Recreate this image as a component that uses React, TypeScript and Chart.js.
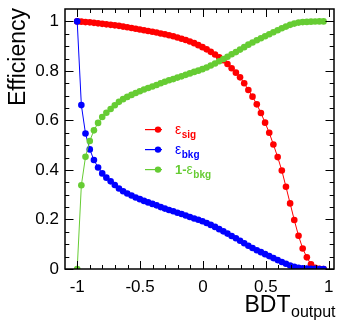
import React, { useEffect, useRef } from "react";
import { Chart, registerables } from "chart.js";
Chart.register(...registerables);

const X = [-1, -0.967, -0.934, -0.9, -0.867, -0.834, -0.801, -0.768, -0.734, -0.701,
  -0.668, -0.635, -0.602, -0.568, -0.535, -0.502, -0.469, -0.436, -0.402, -0.369,
  -0.336, -0.303, -0.27, -0.236, -0.203, -0.17, -0.137, -0.104, -0.07, -0.037,
  -0.004, 0.029, 0.062, 0.096, 0.129, 0.162, 0.195, 0.228, 0.262, 0.295,
  0.328, 0.361, 0.394, 0.428, 0.461, 0.494, 0.527, 0.56, 0.594, 0.627,
  0.66, 0.693, 0.726, 0.76, 0.793, 0.826, 0.859, 0.892, 0.926, 0.959];

const EFF_SIG = [1.0, 0.999, 0.997, 0.996, 0.994, 0.992, 0.99, 0.988, 0.986, 0.984,
  0.982, 0.979, 0.976, 0.973, 0.97, 0.967, 0.964, 0.961, 0.958, 0.955,
  0.951, 0.948, 0.944, 0.94, 0.935, 0.93, 0.925, 0.919, 0.912, 0.904,
  0.896, 0.887, 0.877, 0.866, 0.855, 0.843, 0.828, 0.811, 0.793, 0.774,
  0.75, 0.723, 0.696, 0.665, 0.63, 0.591, 0.55, 0.503, 0.452, 0.398,
  0.332, 0.265, 0.198, 0.134, 0.083, 0.047, 0.019, 0.005, 0.001, 0];

const EFF_BKG = [1.0, 0.662, 0.547, 0.483, 0.44, 0.41, 0.386, 0.369, 0.354, 0.339,
  0.325, 0.314, 0.305, 0.297, 0.289, 0.282, 0.275, 0.269, 0.263, 0.257,
  0.25, 0.244, 0.238, 0.233, 0.227, 0.222, 0.216, 0.21, 0.204, 0.199,
  0.193, 0.186, 0.178, 0.17, 0.161, 0.152, 0.143, 0.133, 0.124, 0.114,
  0.104, 0.094, 0.085, 0.076, 0.068, 0.06, 0.052, 0.044, 0.036, 0.028,
  0.021, 0.014, 0.009, 0.005, 0.003, 0.002, 0.001, 0.0005, 0, 0];

const REJ_BKG = [0, 0.338, 0.453, 0.517, 0.56, 0.59, 0.614, 0.631, 0.646, 0.661,
  0.675, 0.686, 0.695, 0.703, 0.711, 0.718, 0.725, 0.731, 0.737, 0.743,
  0.75, 0.756, 0.762, 0.767, 0.773, 0.778, 0.784, 0.79, 0.796, 0.801,
  0.807, 0.814, 0.822, 0.83, 0.839, 0.848, 0.857, 0.867, 0.876, 0.886,
  0.896, 0.906, 0.915, 0.924, 0.932, 0.94, 0.948, 0.956, 0.964, 0.972,
  0.979, 0.986, 0.991, 0.995, 0.997, 0.998, 0.999, 0.9995, 1, 1];

const X_TICKS = [-1, -0.5, 0, 0.5, 1];
const X_MINOR = [-1, -0.9, -0.8, -0.7, -0.6, -0.5, -0.4, -0.3, -0.2, -0.1, 0,
  0.1, 0.2, 0.3, 0.4, 0.5, 0.6, 0.7, 0.8, 0.9, 1];
const Y_TICKS = [0, 0.2, 0.4, 0.6, 0.8, 1];
const Y_MINOR = [0, 0.05, 0.1, 0.15, 0.2, 0.25, 0.3, 0.35, 0.4, 0.45, 0.5,
  0.55, 0.6, 0.65, 0.7, 0.75, 0.8, 0.85, 0.9, 0.95, 1];

const RED = "#ff0000";
const BLUE = "#0000ff";
const GREEN = "#66cc33";
const FONT = "'Liberation Sans', Arial, Helvetica, sans-serif";

const LEGEND = [
  { prefix: "", main: "\u03b5", sub: "sig", color: RED },
  { prefix: "", main: "\u03b5", sub: "bkg", color: BLUE },
  { prefix: "1-", main: "\u03b5", sub: "bkg", color: GREEN },
];

const toPts = (ys: number[]) => X.map((x, i) => ({ x, y: ys[i] }));

const decorPlugin = {
  id: "decor",
  afterDraw(chart: any) {
    const ctx = chart.ctx;
    const { left, right, top, bottom } = chart.chartArea;
    const xs = chart.scales.x;
    const ys = chart.scales.y;
    ctx.save();
    ctx.strokeStyle = "#000";
    ctx.lineWidth = 1;
    ctx.beginPath();
    X_MINOR.forEach((v) => {
      const p = Math.round(xs.getPixelForValue(v)) + 0.5;
      const len = X_TICKS.includes(v) ? 8 : 4;
      ctx.moveTo(p, bottom);
      ctx.lineTo(p, bottom - len);
      ctx.moveTo(p, top);
      ctx.lineTo(p, top + len);
    });
    Y_MINOR.forEach((v) => {
      const p = Math.round(ys.getPixelForValue(v)) + 0.5;
      const len = Y_TICKS.includes(v) ? 8.5 : 4.3;
      ctx.moveTo(left, p);
      ctx.lineTo(left + len, p);
      ctx.moveTo(right, p);
      ctx.lineTo(right - len, p);
    });
    ctx.stroke();
    ctx.lineWidth = 1.5;
    ctx.strokeRect(left, top, right - left, bottom - top);

    // axis titles
    ctx.fillStyle = "#000";
    ctx.textBaseline = "alphabetic";
    ctx.font = `16px ${FONT}`;
    ctx.textAlign = "right";
    const subW = ctx.measureText("output").width;
    ctx.fillText("output", 335.5, 317);
    ctx.font = `23px ${FONT}`;
    ctx.fillText("BDT", 335.5 - subW - 0.5, 311.5);

    ctx.save();
    ctx.translate(25, 8);
    ctx.rotate(-Math.PI / 2);
    ctx.font = `23px ${FONT}`;
    ctx.textAlign = "right";
    ctx.fillText("Efficiency", 0, 0);
    ctx.restore();

    // legend
    const rows = [129, 149, 169];
    LEGEND.forEach((item, i) => {
      const y = rows[i];
      ctx.fillStyle = item.color;
      ctx.fillRect(145, y, 17, 1.2);
      ctx.beginPath();
      ctx.arc(158, y + 0.6, 3.2, 0, Math.PI * 2);
      ctx.fill();
      ctx.textAlign = "left";
      let tx = 175;
      const base = y + 4.5;
      if (item.prefix) {
        ctx.font = `bold 13px ${FONT}`;
        ctx.fillText(item.prefix, tx, base);
        tx += ctx.measureText(item.prefix).width;
      }
      ctx.font = `14px ${FONT}`;
      ctx.fillText(item.main, tx, base);
      tx += ctx.measureText(item.main).width + 0.5;
      ctx.font = `bold 10px ${FONT}`;
      ctx.fillText(item.sub, tx, base + 4);
    });
    ctx.restore();
  },
};

export default function App() {
  const ref = useRef<HTMLCanvasElement | null>(null);
  useEffect(() => {
    document.body.style.margin = "0";
    const canvas = ref.current;
    if (!canvas) return;
    const ds = (label: string, ys: number[], color: string, order: number) => ({
      label,
      data: toPts(ys),
      borderColor: color,
      backgroundColor: color,
      borderWidth: 1,
      pointRadius: 3.3,
      pointBorderWidth: 0,
      pointBackgroundColor: color,
      tension: 0,
      order,
    });
    const chart = new Chart(canvas, {
      type: "line",
      data: {
        datasets: [
          ds("eff sig", EFF_SIG, RED, 3),
          ds("eff bkg", EFF_BKG, BLUE, 2),
          ds("1-eff bkg", REJ_BKG, GREEN, 1),
        ],
      },
      options: {
        animation: false,
        responsive: false,
        devicePixelRatio: 1,
        layout: { padding: { top: 9, right: 2, left: 0, bottom: 0 } },
        plugins: { legend: { display: false }, tooltip: { enabled: false } },
        scales: {
          x: {
            type: "linear",
            min: -1.097,
            max: 1.042,
            grid: { display: false, drawTicks: false },
            border: { display: false },
            ticks: {
              font: { family: FONT, size: 17 },
              color: "#000",
              padding: 8,
              maxRotation: 0,
              autoSkip: false,
              callback: (v: any) => String(v),
            },
            afterBuildTicks: (s: any) => {
              s.ticks = X_TICKS.map((v) => ({ value: v }));
            },
            afterFit: (s: any) => {
              s.height = 54;
              s.paddingLeft = 0;
              s.paddingRight = 0;
            },
          },
          y: {
            type: "linear",
            min: 0,
            max: 1.05,
            grid: { display: false, drawTicks: false },
            border: { display: false },
            ticks: {
              font: { family: FONT, size: 17 },
              color: "#000",
              padding: 6,
              autoSkip: false,
              callback: (v: any) => String(v),
            },
            afterBuildTicks: (s: any) => {
              s.ticks = Y_TICKS.map((v) => ({ value: v }));
            },
            afterFit: (s: any) => {
              s.width = 65;
              s.paddingTop = 0;
              s.paddingBottom = 0;
            },
          },
        },
      },
      plugins: [decorPlugin],
    } as any);
    return () => chart.destroy();
  }, []);
  return (
    <div style={{ position: "absolute", left: 0, top: 0, width: 338, height: 323, background: "#fff" }}>
      <canvas ref={ref} width={338} height={323} style={{ width: 338, height: 323, display: "block" }} />
    </div>
  );
}
